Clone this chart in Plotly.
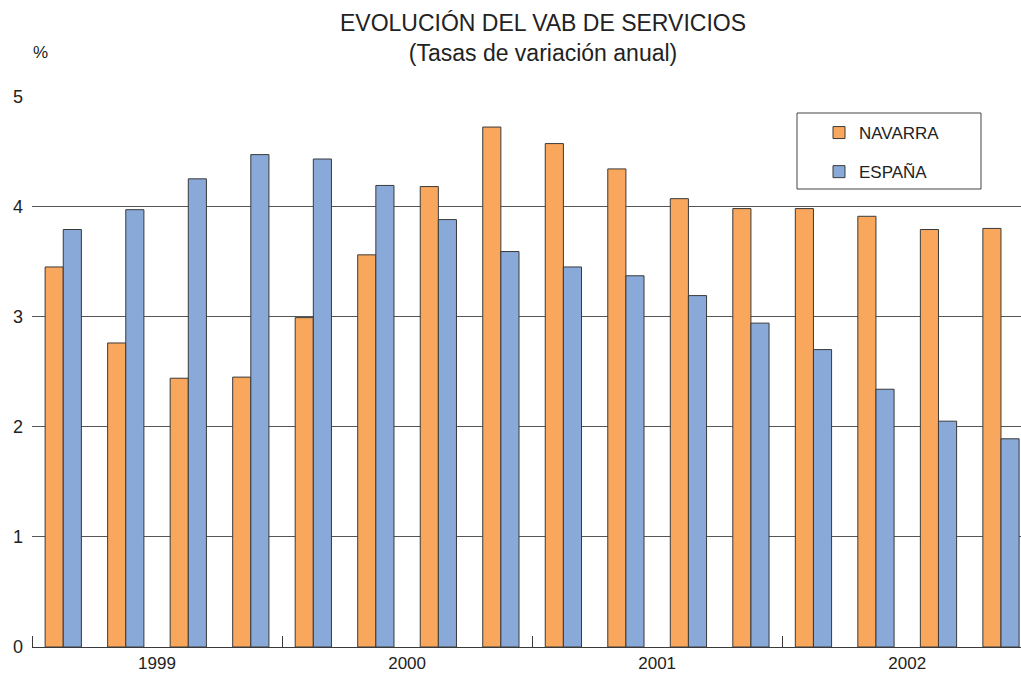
import plotly.graph_objects as go

quarters = list(range(16))
years = ["1999", "2000", "2001", "2002"]
navarra = [3.45, 2.76, 2.44, 2.45, 2.99, 3.56, 4.18, 4.72,
           4.57, 4.34, 4.07, 3.98, 3.98, 3.91, 3.79, 3.80]
espana = [3.79, 3.97, 4.25, 4.47, 4.43, 4.19, 3.88, 3.59,
          3.45, 3.37, 3.19, 2.94, 2.70, 2.34, 2.05, 1.89]

ORANGE = "#F9A75C"
BLUE = "#89A9D8"
LINE = "#3a3a3a"
FONT = "Liberation Sans, Arial, sans-serif"

W, H = 1021, 675
L, R, T, B = 32, 0, 96, 28
PW, PH = W - L - R, H - T - B


def px(x):
    return (x - L) / PW


def py(y):
    return (H - B - y) / PH


fig = go.Figure()
fig.add_trace(go.Bar(x=quarters, y=navarra, name="NAVARRA", legendgroup="n",
                     marker=dict(color=ORANGE, line=dict(color=LINE, width=1))))
fig.add_trace(go.Bar(x=quarters, y=espana, name="ESPAÑA", legendgroup="e",
                     marker=dict(color=BLUE, line=dict(color=LINE, width=1))))

fig.update_layout(
    width=W, height=H,
    margin=dict(l=L, r=R, t=T, b=B, autoexpand=False),
    paper_bgcolor="white", plot_bgcolor="white",
    font=dict(family=FONT, size=18, color="#222"),
    barmode="group", bargap=0.42, bargroupgap=0.0,
    showlegend=True,
    legend=dict(x=px(819), y=py(115), xanchor="left", yanchor="top",
                borderwidth=0, bgcolor="rgba(0,0,0,0)",
                font=dict(size=17, color="#222"), tracegroupgap=14,
                itemwidth=30),
    xaxis=dict(range=[-0.5, 15.32], tickvals=[1.5, 5.5, 9.5, 13.5], ticktext=years,
               ticks="", showgrid=False, zeroline=False, automargin=False,
               showline=True, linecolor=LINE, linewidth=1,
               tickfont=dict(size=17), ticklabelstandoff=1,
               minor=dict(tickvals=[-0.5, 3.5, 7.5, 11.5], ticks="inside",
                          ticklen=11, tickcolor=LINE, tickwidth=1, showgrid=False)),
    yaxis=dict(range=[0, 5.002], tickvals=[0, 1, 2, 3, 4, 5], showgrid=True,
               gridcolor="#555", gridwidth=1, zeroline=False, showline=False,
               automargin=False,
               ticks="", tickfont=dict(size=18), ticklabelstandoff=8),
    shapes=[
        dict(type="rect", xref="paper", yref="paper",
             x0=px(797), x1=px(981), y0=py(113), y1=py(189),
             line=dict(color="#444", width=1), fillcolor="rgba(0,0,0,0)"),
    ],
    annotations=[
        dict(text="EVOLUCIÓN DEL VAB DE SERVICIOS<br>(Tasas de variación anual)",
             x=px(543), y=py(38), xref="paper", yref="paper", showarrow=False,
             xanchor="center", yanchor="middle", font=dict(size=23, color="#222")),
        dict(text="%", x=px(40), y=py(52), xref="paper", yref="paper", showarrow=False,
             xanchor="center", yanchor="middle", font=dict(size=17, color="#222")),
    ],
)

fig.write_html("out.html", config={"displayModeBar": False},
               post_script="document.body.style.margin='0';")
